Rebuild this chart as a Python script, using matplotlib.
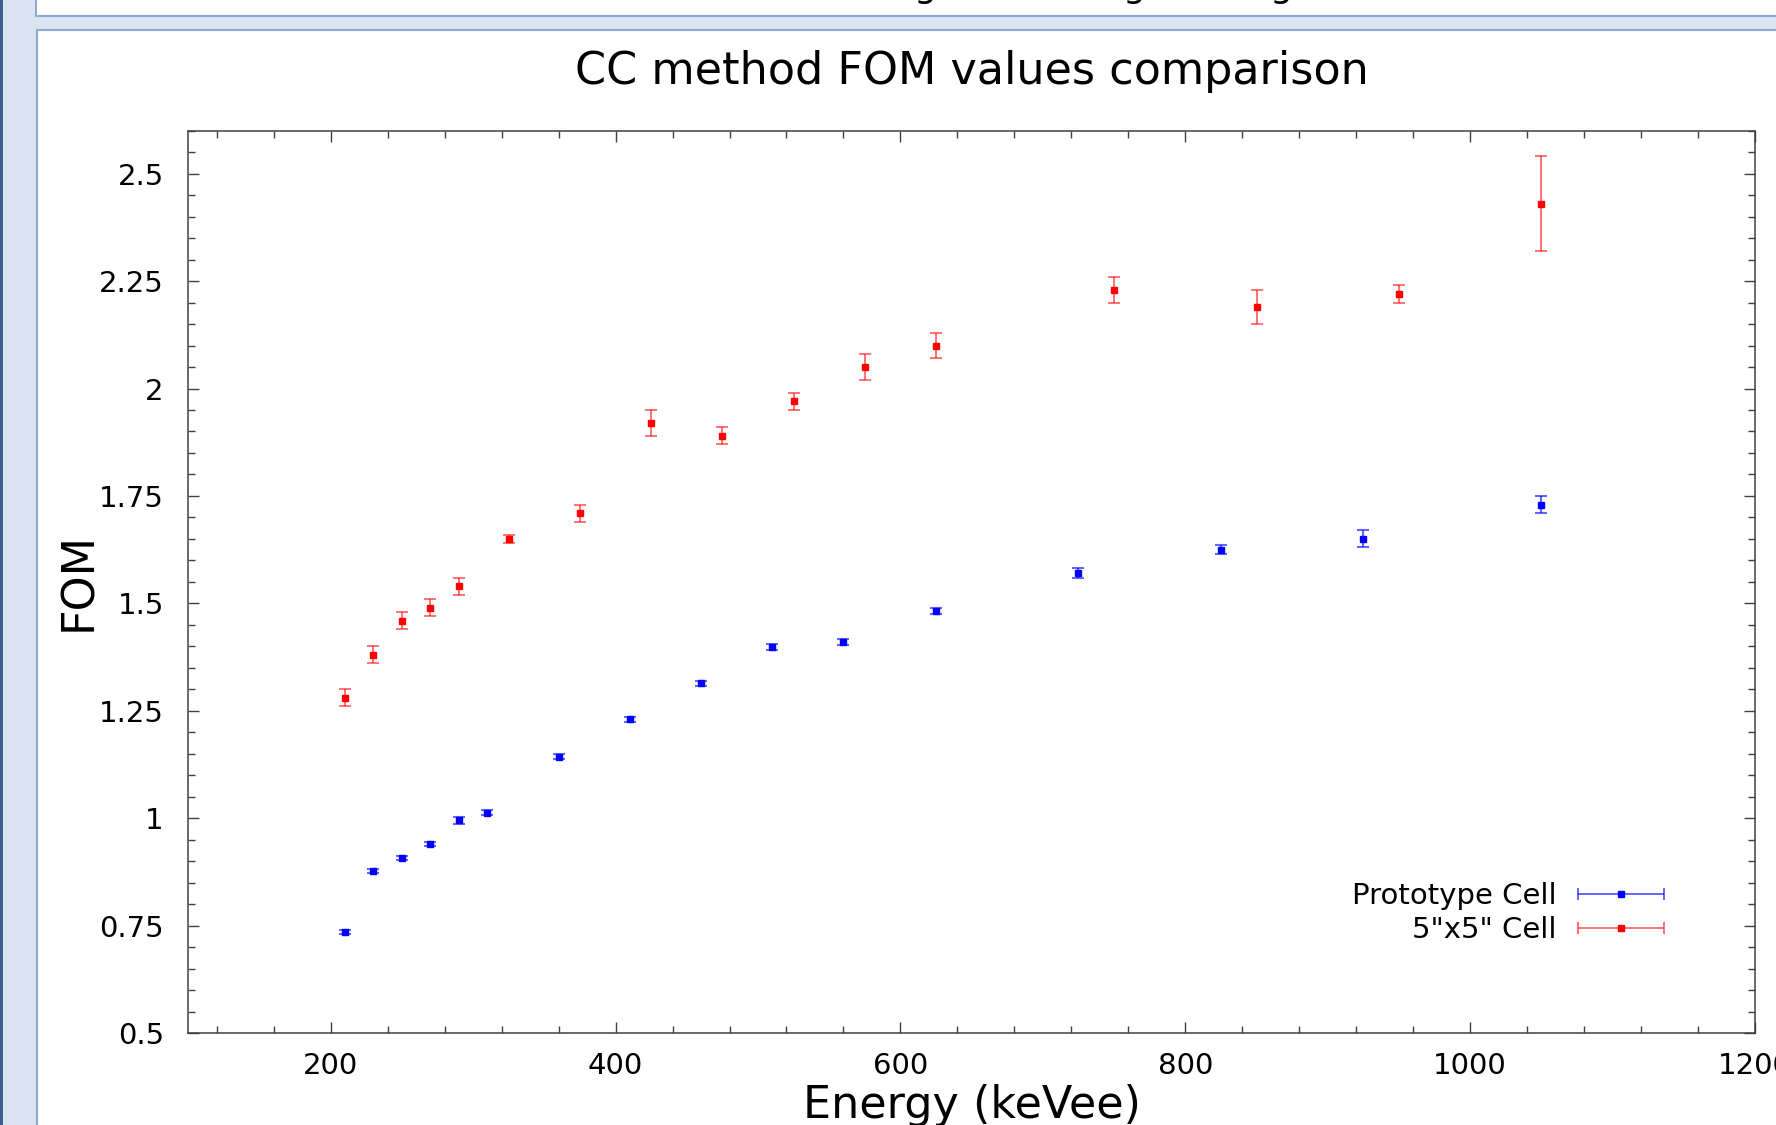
import matplotlib.pyplot as plt
import numpy as np
from matplotlib.patches import Rectangle
from matplotlib.container import ErrorbarContainer
from matplotlib.legend_handler import HandlerErrorbar
from matplotlib.ticker import MultipleLocator, FormatStrFormatter

# FOM values
energy_proto = [210, 230, 250, 270, 290, 310, 360, 410, 460, 510, 560, 625, 725, 825, 925, 1050]
fom_proto = [0.735, 0.877, 0.908, 0.940, 0.995, 1.013, 1.143, 1.230, 1.314, 1.399, 1.409, 1.482,
             1.570, 1.625, 1.650, 1.730]
err_proto = [0.004, 0.005, 0.005, 0.005, 0.008, 0.006, 0.006, 0.006, 0.006, 0.007, 0.007, 0.006,
             0.012, 0.011, 0.020, 0.020]

energy_5x5 = [210, 230, 250, 270, 290, 325, 375, 425, 475, 525, 575, 625, 750, 850, 950, 1050]
fom_5x5 = [1.28, 1.38, 1.46, 1.49, 1.54, 1.65, 1.71, 1.92, 1.89, 1.97, 2.05, 2.10,
           2.23, 2.19, 2.22, 2.43]
err_5x5 = [0.02, 0.02, 0.02, 0.02, 0.02, 0.01, 0.02, 0.03, 0.02, 0.02, 0.03, 0.03,
           0.03, 0.04, 0.02, 0.11]

labels = ['Prototype Cell', '5"x5" Cell']
colors = ['#0000ff', '#ff0000']

W, H = 1776, 1125
fig = plt.figure(figsize=(W / 100, H / 100), dpi=100, facecolor='#dbe5f1')


def box(x0, y0, x1, y1, **kw):
    # rectangle in pixel coords, origin top-left
    r = Rectangle((x0 / W, 1 - y1 / H), (x1 - x0) / W, (y1 - y0) / H,
                  transform=fig.transFigure, zorder=-5, **kw)
    fig.add_artist(r)


# window chrome around the plot (screenshot look)
box(36, -10, W + 10, 16, facecolor='white', edgecolor='#8eaad6', linewidth=1.5)
box(37, 30, W + 10, H + 10, facecolor='white', edgecolor='#8eaad6', linewidth=1.5)
box(0, 0, 2.5, H, facecolor='#3b5d8f', edgecolor='none')
# descenders of the text from the window above
for gx in [925, 1134, 1281]:
    fig.text(gx / W, 1 + 3 / H, 'g', fontsize=26, ha='center', va='baseline', color='black')

ax = fig.add_axes([188.3 / W, 1 - 1033 / H, (1755 - 188.3) / W, (1033 - 130.7) / H])

ecol_p = (0, 0, 1, 0.6)
ecol_r = (1, 0, 0, 0.55)
ax.errorbar(energy_proto, fom_proto, yerr=err_proto, fmt='s', ms=3.8, color=colors[0],
            ecolor=ecol_p, elinewidth=1.5, capsize=4.5, capthick=1.5)
ax.errorbar(energy_5x5, fom_5x5, yerr=err_5x5, fmt='s', ms=3.8, color=colors[1],
            ecolor=ecol_r, elinewidth=1.4, capsize=4.5, capthick=1.4)

# legend proxies with horizontal bars like gnuplot's key
p1 = ax.errorbar([np.nan], [np.nan], xerr=[1], fmt='s', ms=3.8, color=colors[0],
                 ecolor=ecol_p, elinewidth=1.4, capsize=4.5, capthick=1.4)
p2 = ax.errorbar([np.nan], [np.nan], xerr=[1], fmt='s', ms=3.8, color=colors[1],
                 ecolor=ecol_r, elinewidth=1.4, capsize=4.5, capthick=1.4)
ax.legend([p1, p2], labels, loc='center right', bbox_to_anchor=(0.942, 0.133),
          frameon=False, markerfirst=False, fontsize=21, handlelength=2.95,
          handletextpad=0.75, labelspacing=0.2, borderpad=0, borderaxespad=0,
          numpoints=1, handler_map={ErrorbarContainer: HandlerErrorbar(xerr_size=1.476)})

ax.set_xlim(100, 1200)
ax.set_ylim(0.5, 2.6)
ax.xaxis.set_major_locator(MultipleLocator(200))
ax.xaxis.set_minor_locator(MultipleLocator(40))
ax.yaxis.set_major_locator(MultipleLocator(0.25))
ax.yaxis.set_minor_locator(MultipleLocator(0.05))
ax.yaxis.set_major_formatter(FormatStrFormatter('%g'))

for s in ax.spines.values():
    s.set_color('#404040')
    s.set_linewidth(1.1)
ax.tick_params(which='both', direction='in', top=True, right=True, color='#404040', width=1.0)
ax.tick_params(which='major', length=8, labelsize=21)
ax.tick_params(axis='x', which='major', pad=13.5)
ax.tick_params(axis='y', which='major', pad=17.6)
ax.tick_params(which='minor', length=4.8)

ax.set_title('CC method FOM values comparison', fontsize=32, pad=33.6)
ax.set_xlabel('Energy (keVee)', fontsize=32)
ax.set_ylabel('FOM', fontsize=32)
ax.xaxis.set_label_coords(0.5, -0.0565)
ax.yaxis.set_label_coords(-0.056, 0.5)

plt.savefig('out.png', dpi=100, facecolor=fig.get_facecolor())
